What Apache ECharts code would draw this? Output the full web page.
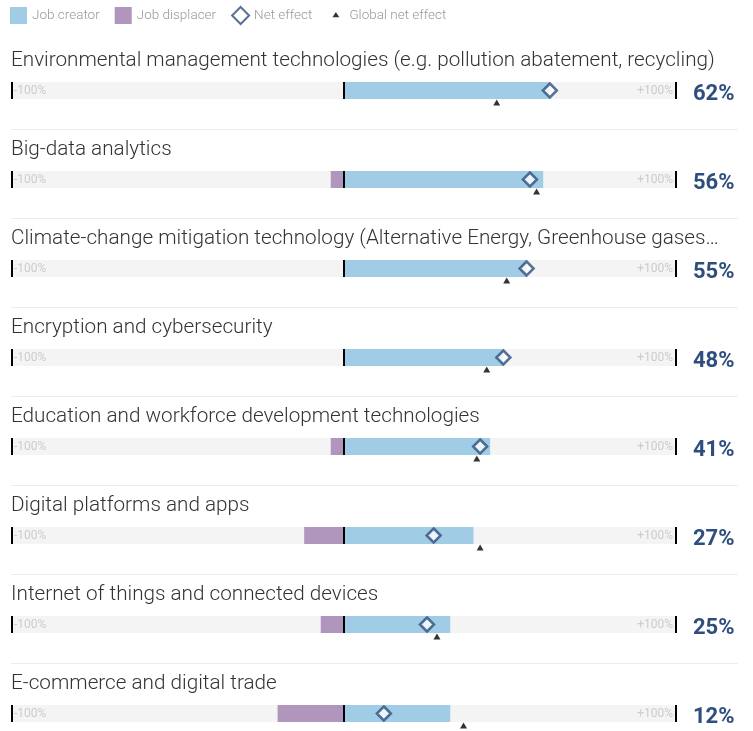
<!DOCTYPE html>
<html>
<head>
<meta charset="utf-8">
<script src="https://cdn.jsdelivr.net/npm/echarts@6/dist/echarts.min.js"></script>
<style>
	html, body { margin: 0; padding: 0; background: #fff; }
	#chart { width: 753px; height: 731px; }
</style>
</head>
<body>
<div id="chart"></div>
<script>
var categories = [
	'Environmental management technologies (e.g. pollution abatement, recycling)',
	'Big-data analytics',
	'Climate-change mitigation technology (Alternative Energy, Greenhouse gases\u2026',
	'Encryption and cybersecurity',
	'Education and workforce development technologies',
	'Digital platforms and apps',
	'Internet of things and connected devices',
	'E-commerce and digital trade'
];
var jobCreator = [62, 60, 55, 48, 44, 39, 32, 32];
var jobDisplacer = [0, -4, 0, 0, -4, -12, -7, -20];
var netEffect = [62, 56, 55, 48, 41, 27, 25, 12];
var globalNet = [46, 58, 49, 43, 40, 41, 28, 36];
var axisTicks = [-100, 0, 100];
var endLabels = ['-100%', '+100%'];

var BLUE = '#a0cde5';
var PURPLE = '#b095bd';
var NAVY = '#2d4e7e';
var FONT = 'Roboto, "Helvetica Neue", Arial, sans-serif';

// one grid per row, the grid is the grey track
var rowStart = 82, rowStep = 89, trackH = 17;
var gridLeft = 12, gridRight = 77;

var grids = [], xAxes = [], yAxes = [], series = [], graphics = [];

for (var i = 0; i < categories.length; i++) {
	var rowY = rowStart + rowStep * i;
	grids.push({ left: gridLeft, right: gridRight, top: rowY, height: trackH });
	xAxes.push({
		gridIndex: i,
		type: 'value',
		min: axisTicks[0],
		max: axisTicks[2],
		interval: 100,
		axisLine: { show: false },
		axisTick: { show: false },
		splitLine: { show: false },
		axisLabel: { show: false }
	});
	(function (idx) {
		yAxes.push({
			gridIndex: idx,
			type: 'category',
			data: [categories[idx]],
			position: 'right',
			axisLine: { show: false },
			axisTick: { show: false },
			axisLabel: {
				margin: 17,
				formatter: function () {
					return '{v|' + netEffect[idx] + '%}';
				},
				rich: {
					v: {
						padding: [8, 0, 0, 0],
						color: NAVY,
						fontSize: 22,
						fontWeight: 'bold',
						fontFamily: FONT
					}
				}
			}
		});
	})(i);

	series.push({
		name: 'Job creator',
		type: 'bar',
		xAxisIndex: i,
		yAxisIndex: i,
		stack: 'row' + i,
		barWidth: '100%',
		showBackground: true,
		backgroundStyle: { color: '#f4f4f4' },
		itemStyle: { color: BLUE },
		data: [jobCreator[i]],
		markLine: {
			silent: true,
			symbol: 'none',
			label: { show: false },
			lineStyle: { color: '#000', width: 2, type: 'solid' },
			data: axisTicks.map(function (t) { return { xAxis: t }; })
		}
	});
	series.push({
		name: 'Job displacer',
		type: 'bar',
		xAxisIndex: i,
		yAxisIndex: i,
		stack: 'row' + i,
		barWidth: '100%',
		itemStyle: { color: PURPLE },
		data: [jobDisplacer[i]]
	});
	series.push({
		name: 'Global net effect',
		type: 'scatter',
		xAxisIndex: i,
		yAxisIndex: i,
		symbol: 'triangle',
		symbolSize: [7, 6],
		symbolOffset: [0, 12],
		itemStyle: { color: '#000' },
		z: 4,
		data: [globalNet[i]]
	});
	series.push({
		name: 'Net effect',
		type: 'scatter',
		xAxisIndex: i,
		yAxisIndex: i,
		symbol: 'diamond',
		symbolSize: 14,
		itemStyle: { color: '#fff', borderColor: NAVY, borderWidth: 2.5 },
		z: 5,
		data: [netEffect[i]]
	});

	// row title
	graphics.push({
		type: 'text',
		x: 11,
		y: rowY - 21,
		style: {
			text: categories[i],
			fill: '#333',
			font: '300 20.7px ' + FONT,
			verticalAlign: 'middle'
		}
	});
	// -100% / +100% inside the track
	graphics.push({
		type: 'text',
		x: gridLeft + 2,
		y: rowY + trackH / 2,
		z: 10,
		style: { text: endLabels[0], fill: '#cccccc', font: '12px ' + FONT, verticalAlign: 'middle', align: 'left' }
	});
	graphics.push({
		type: 'text',
		x: 753 - gridRight - 3,
		y: rowY + trackH / 2,
		z: 10,
		style: { text: endLabels[1], fill: '#cccccc', font: '12px ' + FONT, verticalAlign: 'middle', align: 'right' }
	});
	if (i > 0) {
		graphics.push({
			type: 'line',
			shape: { x1: 11, y1: rowY - 41.5, x2: 738, y2: rowY - 41.5 },
			style: { stroke: '#ececec', lineWidth: 1 }
		});
	}
}

var chart = echarts.init(document.getElementById('chart'));
chart.setOption({
	animation: false,
	legend: {
		left: 10,
		top: 6,
		padding: 0,
		itemWidth: 17,
		itemHeight: 17,
		itemGap: 15,
		selectedMode: false,
		textStyle: { color: '#999', fontSize: 13.5, fontFamily: FONT, fontWeight: 300 },
		data: [
			{ name: 'Job creator', icon: 'rect', itemStyle: { color: BLUE } },
			{ name: 'Job displacer', icon: 'rect', itemStyle: { color: PURPLE } },
			{ name: 'Net effect', icon: 'diamond', itemStyle: { color: '#fff', borderColor: NAVY, borderWidth: 2 } },
			{ name: 'Global net effect', icon: 'path://M0,0M20,20M10,6L14,12L6,12Z', itemStyle: { color: '#000' } }
		]
	},
	grid: grids,
	xAxis: xAxes,
	yAxis: yAxes,
	series: series,
	graphic: graphics
});
</script>
</body>
</html>
